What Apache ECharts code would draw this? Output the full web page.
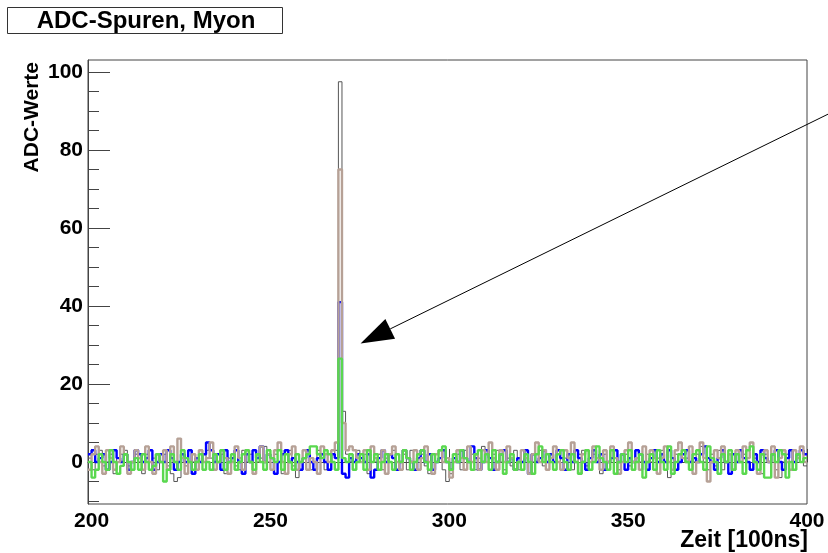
<!DOCTYPE html>
<html>
<head>
<meta charset="utf-8">
<script src="https://cdn.jsdelivr.net/npm/echarts@6/dist/echarts.min.js"></script>
<style>html,body{margin:0;padding:0;background:#fff}#c{width:828px;height:553px}</style>
</head>
<body>
<div id="c"></div>
<script>
// ---- data (bins of width 1, first bin starts at 199) ----
var binStart = 199;
var xTicks = [200, 250, 300, 350, 400];
var xMinorTicks = [210, 220, 230, 240, 260, 270, 280, 290, 310, 320, 330, 340, 360, 370, 380, 390];
var yTicks = [0, 20, 40, 60, 80, 100];
var yMinorTicks = [-10, -5, 5, 10, 15, 25, 30, 35, 45, 50, 55, 65, 70, 75, 85, 90, 95];

var blackTrace = [
 1, -2, 2, 3, -1, 0, 2, -3, 1, 2,
 3, -1, -2, 2, 0, -3, 2, 0, 1, -2,
 0, 2, -1, -3, -5, -4, 2, -1, 3, 0,
 -2, 2, 0, 3, 1, -2, 0, 2, -3, 1,
 2, -1, -2, 3, 0, 2, -3, 0, 1, 4,
 0, -2, 2, 0, -3, 2, 3, -1, -4, -2,
 1, 2, -2, 0, 3, 1, -2, 0, 2, 3,
 97.5, 13, 2, 0, -2, 3, 1, 2, -3, 4,
 0, 2, -2, 1, 2, 3, -2, 0, 2, -2,
 3, 0, -2, 2, -1, -3, 2, 0, 1, -2,
 -5, -3, 0, 2, -2, 3, 0, 2, -2, 1,
 4, 0, -2, 2, 3, 0, -2, 1, -1, 3,
 -2, 0, 2, -3, 0, 2, 3, -1, -2, 2,
 0, 3, -2, 1, 2, -2, 0, 2, 3, -1,
 -2, 2, 0, -3, 2, 0, 3, 1, -2, 0,
 2, -1, -2, 3, 0, -4, 2, 0, -2, 1,
 3, 0, -4, -2, 2, 0, 3, 1, -2, 0,
 2, 4, 0, -2, 2, -1, 3, -2, 0, 2,
 -2, 0, 3, 2, 0, -2, 1, 0, -3, 2,
 0, 2, -2, -4, 0, 2, 0, -2, 1, 0,
 -1
];
var blueTrace = [
 2, 3, 0, 1, 2, -2, 0, 3, 1, 0,
 2, -2, 0, 3, 2, 0, 1, 3, -2, 0,
 2, 0, 3, 1, -2, 0, 2, 0, 3, -3,
 1, 0, 2, 5, 3, 0, 2, -2, 3, 0,
 1, 3, 0, -3, 2, 0, 3, 1, 4, 0,
 2, 1, -3, 0, 2, 3, 0, 1, 0, -2,
 1, 3, 0, -2, 1, 2, 0, -2, 2, 1,
 41, -3, -4, 1, 0, 2, 1, 0, 2, -4,
 -2, 1, 3, 0, 2, 1, -2, 0, 3, 1,
 0, -2, 1, 3, 0, 2, -2, 0, 1, 3,
 0, -2, 1, 0, 3, 1, 0, 4, 1, -2,
 0, 3, 1, -2, 0, 2, 3, 0, 1, -2,
 1, 0, 3, -3, 2, 0, 1, 3, 0, 2,
 0, 3, 1, -2, 2, 0, 3, 1, 0, -2,
 1, 3, 0, 2, -2, 0, 1, 3, 0, 2,
 -2, 1, 0, 3, 2, 0, -2, 1, 3, 0,
 2, 0, 3, 1, -2, 0, 2, 3, 0, 1,
 0, 2, 4, 1, 0, -2, 1, 3, 0, -3,
 2, 0, 3, 1, 0, -2, 2, 0, 3, 1,
 0, 2, 3, 0, -2, 1, 3, 0, 2, 3,
 2
];
var brownTrace = [
 -2, 2, 4, 0, -3, 3, 1, -2, 0, 4,
 2, -3, 0, 3, 1, -2, 4, 0, -3, 2,
 0, 3, -2, 4, 0, 6, 1, -3, 0, 2,
 -2, 3, 0, 1, 5, -2, 0, 3, 1, -3,
 0, 4, 1, -2, 3, 0, -3, 2, 4, 0,
 2, -2, 3, 5, 0, -3, 2, 4, -2, 0,
 3, -2, 1, 0, -3, 4, 2, 0, 3, 5,
 75, 10, 3, 4, 3, 1, 0, 3, -2, 4,
 1, 0, 3, -3, 2, 4, 0, -2, 3, 1,
 0, 3, -2, 1, 4, 0, -3, 2, 3, 0,
 1, -4, 0, 3, 1, -2, 4, 0, 2, -2,
 3, 0, 5, 1, -2, 3, 0, 4, 1, -2,
 0, 3, 1, -3, 2, 5, 0, 3, -2, 1,
 4, 0, -2, 3, 1, 5, 0, -3, 2, 3,
 0, 4, 1, -2, 3, 0, 4, 1, -3, 0,
 3, 5, 0, 1, -2, 4, 0, 3, 1, -3,
 1, 4, 0, -2, 3, 5, 1, 0, 4, -3,
 0, 5, 1, -5, 0, 3, 1, 4, 0, 2,
 -2, 3, 0, 4, 1, 5, 0, -3, 2, 3,
 0, 4, -4, 1, 3, 0, -2, 3, 1, 4,
 0
];
var greenTrace = [
 0, -4, -2, 2, 0, -2, 3, 0, -3, -1,
 2, 0, -2, 1, -2, 2, 0, -2, -1, 2,
 0, -5, -2, 2, 0, -2, 3, 1, 0, -2,
 0, 2, -2, 0, -2, 2, 0, 3, -2, 0,
 2, -2, 0, 2, 3, 0, -2, 2, 0, -2,
 3, 1, 0, 3, -2, 2, 0, -2, 2, 0,
 1, 2, 4, 4, 2, 1, 3, 2, 0, -2,
 26.5, 1, 0, 2, -2, 0, 2, -2, 3, 0,
 2, -2, 0, 2, 0, -2, 2, 0, 3, 1,
 -2, 0, 2, 3, 0, -2, 2, 0, 3, 4,
 0, -2, 2, 0, 3, 1, 0, -2, 2, 3,
 0, 2, -2, 3, 0, 2, -3, 0, 2, -2,
 0, -2, 2, 0, -3, 2, 4, 0, 2, 0,
 -2, 2, 3, 0, -2, 2, 0, -3, 0, 3,
 -2, 0, 4, 1, 0, -2, 3, -3, 0, 2,
 0, 3, -2, 0, 2, -4, 0, 2, -2, 3,
 0, -2, 4, -3, 0, 2, 3, 0, -2, 2,
 3, 0, -2, 4, 1, 0, -3, 2, 0, 3,
 -2, 2, 0, -3, 3, 4, 0, -2, 2, -4,
 -4, 2, 0, 3, 2, -4, 0, -2, 2, 0,
 1
];
var arrowFrom = [405.9, 89.2];
var arrowTo = [275.2, 30.4];

function hist(arr) {
  var d = arr.map(function (v, i) { return [binStart + i, v]; });
  d.push([binStart + arr.length, arr[arr.length - 1]]);
  return d;
}

var FONT = 'Liberation Sans';
var chart = echarts.init(document.getElementById('c'), null, {renderer: 'canvas'});
var grid = {left: 88, right: 21, top: 60, bottom: 49, show: true, borderColor: '#444', borderWidth: 1, backgroundColor: 'transparent'};
var yMin = -10.77, yMax = 103.08;
var tickLabel = {fontFamily: FONT, fontWeight: 'bold', fontSize: 21, color: '#000'};

function mk(name, arr, color, width, z) {
  return {
    name: name, type: 'line', data: hist(arr), step: 'end', showSymbol: false, symbol: 'none',
    lineStyle: {color: color, width: width}, z: z, xAxisIndex: 0, yAxisIndex: 0, animation: false, clip: true
  };
}

chart.setOption({
  animation: false,
  grid: grid,
  xAxis: [
    {type: 'value', min: binStart, max: 400, position: 'bottom',
     axisLine: {show: true, lineStyle: {color: '#444', width: 1}},
     axisTick: {show: true, inside: true, length: 13, customValues: xTicks, lineStyle: {color: '#444'}},
     axisLabel: {show: true, customValues: xTicks, margin: 7, ...tickLabel},
     splitLine: {show: false}},
    {type: 'value', min: binStart, max: 400, position: 'bottom',
     axisLine: {show: false},
     axisTick: {show: true, inside: true, length: 6, customValues: xMinorTicks, lineStyle: {color: '#444'}},
     axisLabel: {show: false}, splitLine: {show: false}}
  ],
  yAxis: [
    {type: 'value', min: yMin, max: yMax, position: 'left',
     axisLine: {show: true, lineStyle: {color: '#444', width: 1}},
     axisTick: {show: true, inside: true, length: 22, customValues: yTicks, lineStyle: {color: '#444'}},
     axisLabel: {show: true, customValues: yTicks, margin: 5, ...tickLabel},
     splitLine: {show: false}},
    {type: 'value', min: yMin, max: yMax, position: 'left',
     axisLine: {show: false},
     axisTick: {show: true, inside: true, length: 11, customValues: yMinorTicks, lineStyle: {color: '#444'}},
     axisLabel: {show: false}, splitLine: {show: false}}
  ],
  series: [
    mk('black', blackTrace, '#555555', 1, 2),
    mk('blue', blueTrace, '#0000ff', 2.4, 3),
    mk('brown', brownTrace, '#b6a196', 2.4, 4),
    mk('green', greenTrace, '#5ad84f', 2.4, 5)
  ]
});

var p1 = chart.convertToPixel({gridIndex: 0}, arrowFrom);
var p2 = chart.convertToPixel({gridIndex: 0}, arrowTo);
var dx = p1[0] - p2[0], dy = p1[1] - p2[1];
var L = Math.sqrt(dx * dx + dy * dy);
var ux = dx / L, uy = dy / L;
var headLen = 33, headHalf = 11;
var bx = p2[0] + ux * headLen, by = p2[1] + uy * headLen;

chart.setOption({
  graphic: [
    {type: 'rect', shape: {x: 7.5, y: 7.5, width: 275, height: 26}, style: {fill: '#fff', stroke: '#333', lineWidth: 1}, z: 10},
    {type: 'text', x: 146, y: 21, style: {text: 'ADC-Spuren, Myon', fontFamily: FONT, fontWeight: 'bold', fontSize: 24, fill: '#000', align: 'center', verticalAlign: 'middle'}, z: 11},
    {type: 'text', x: 32, y: 62, rotation: Math.PI / 2, style: {text: 'ADC-Werte', fontFamily: FONT, fontWeight: 'bold', fontSize: 21, fill: '#000', align: 'right', verticalAlign: 'middle'}, z: 11},
    {type: 'text', x: 808, y: 541, style: {text: 'Zeit [100ns]', fontFamily: FONT, fontWeight: 'bold', fontSize: 23, fill: '#000', align: 'right', verticalAlign: 'middle'}, z: 11},
    {type: 'line', shape: {x1: p1[0], y1: p1[1], x2: bx, y2: by}, style: {stroke: '#000', lineWidth: 1}, z: 20},
    {type: 'polygon', shape: {points: [[p2[0], p2[1]], [bx - uy * headHalf, by + ux * headHalf], [bx + uy * headHalf, by - ux * headHalf]]}, style: {fill: '#000'}, z: 20}
  ]
});
</script>
</body>
</html>
